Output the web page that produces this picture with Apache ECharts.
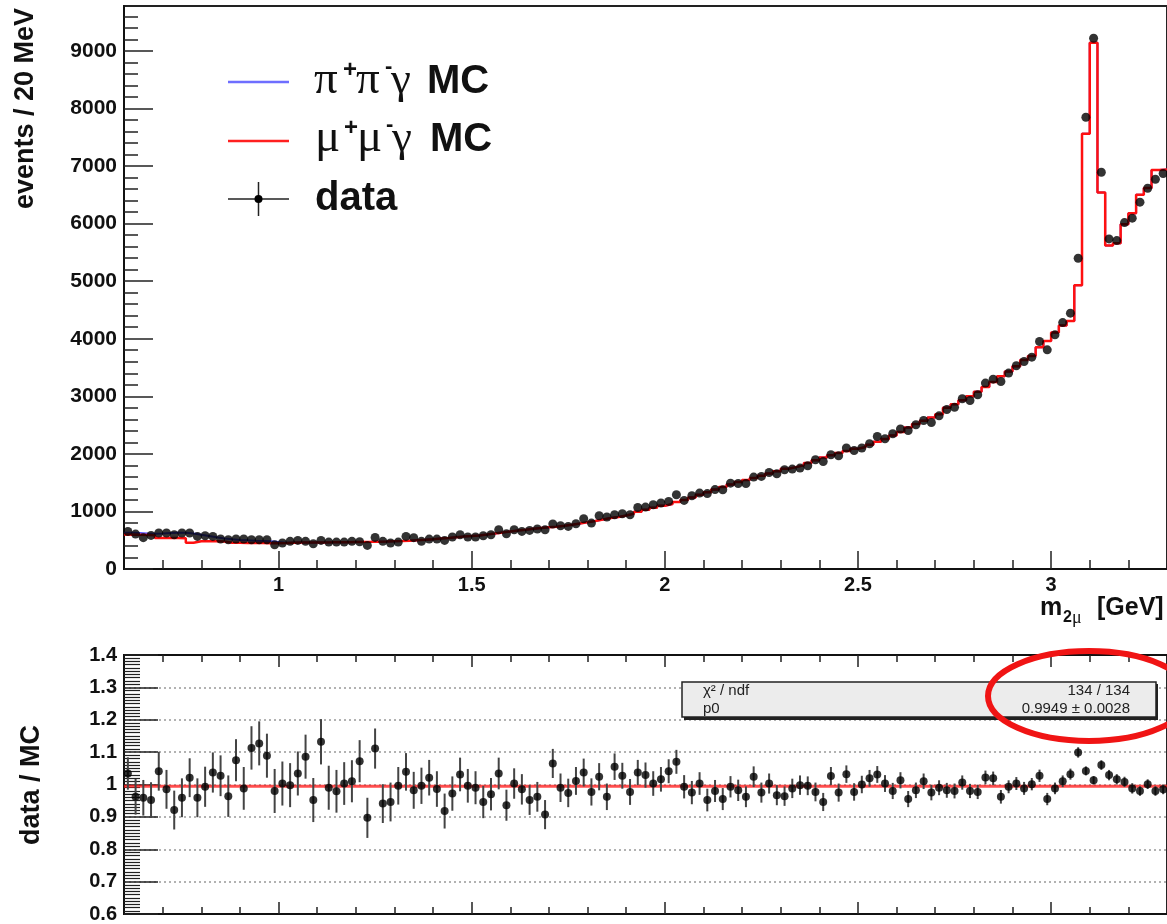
<!DOCTYPE html>
<html><head><meta charset="utf-8">
<script src="https://cdn.jsdelivr.net/npm/echarts@6/dist/echarts.min.js"></script>
<style>html,body{margin:0;padding:0;background:#fff}#c{width:1167px;height:924px}</style>
</head><body><div id="c"></div>
<script>
// ---- binning (categories) ----
const binLow = 0.6, binWidth = 0.02, nBins = 135;

// ---- top panel: data events per 20 MeV bin ----
const dataEvents = [653,607,545,583,625,625,595,625,625,566,578,566,521,509,521,521,509,509,509,422,
451,480,497,480,439,497,468,468,468,480,474,410,549,480,451,468,566,545,480,520,
520,497,555,595,555,555,578,595,682,613,682,653,670,694,682,781,752,740,786,873,
798,925,903,943,960,943,1069,1076,1116,1146,1174,1290,1191,1273,1319,1310,1380,1377,1491,1486,
1486,1597,1608,1677,1654,1724,1736,1753,1793,1898,1868,1984,1967,2101,2059,2101,2175,2302,2262,2349,
2431,2406,2505,2580,2545,2661,2770,2808,2957,2928,3026,3229,3298,3257,3403,3530,3604,3680,3951,3807,
4068,4281,4444,5399,7847,9219,6892,5734,5705,6017,6094,6372,6615,6771,6870];

// ---- top panel: mu+mu-gamma MC (red) ----
const mcMuMu = [600,595,590,585,540,540,538,535,455,482,482,480,478,455,455,452,450,450,448,446,
450,456,460,460,460,462,463,465,466,468,470,472,475,478,482,486,492,500,508,518,
530,540,552,563,572,582,598,615,635,652,668,682,698,712,725,735,752,770,790,812,
835,860,885,905,930,960,995,1030,1065,1100,1130,1165,1200,1240,1290,1335,1380,1425,1470,1510,
1545,1580,1620,1660,1700,1740,1770,1800,1840,1890,1935,1975,2015,2050,2090,2120,2160,2210,2260,2320,
2380,2460,2520,2575,2630,2690,2800,2860,2930,3000,3080,3160,3250,3350,3430,3520,3630,3700,3850,3960,
4110,4230,4310,4930,7560,9140,6540,5620,5660,5990,6180,6500,6620,6930,6940];

// ---- top panel: pi+pi-gamma MC contribution (blue, drawn stacked on top of red) ----
const mcPiPi = [30,30,25,27,75,85,92,93,160,113,93,70,52,60,50,46,42,37,34,24,
5,3,2,0,0,0,0,0,0,0,0,0,0,0,0,0,0,0,0,0,
0,0,0,0,0,0,0,0,0,0,0,0,0,0,0,0,0,0,0,0,
0,0,0,0,0,0,0,0,0,0,0,0,0,0,0,0,0,0,0,0,
0,0,0,0,0,0,0,0,0,0,0,0,0,0,0,0,0,0,0,0,
0,0,0,0,0,0,0,0,0,0,0,0,0,0,0,0,0,0,0,0,
0,0,0,0,0,0,0,0,0,0,0,0,0,0,0];

// ---- bottom panel: data / MC ratio and its error ----
const ratio = [1.034,0.962,0.959,0.952,1.041,0.985,0.921,0.959,1.021,0.959,0.993,1.037,1.027,0.964,1.075,0.988,1.113,1.127,1.089,0.980,
1.003,0.998,1.034,1.086,0.952,1.132,0.990,0.979,1.003,1.010,1.072,0.897,1.111,0.941,0.946,0.996,1.039,0.982,0.996,1.021,
0.986,0.918,0.972,1.031,0.996,0.990,0.946,0.970,1.034,0.936,1.003,0.985,0.952,0.962,0.907,1.065,0.990,0.974,1.011,1.037,
0.977,1.024,0.962,1.055,1.027,0.977,1.037,1.029,1.003,1.016,1.041,1.070,0.993,0.975,1.003,0.952,0.980,0.955,0.993,0.982,
0.962,1.024,0.975,1.003,0.967,0.964,0.988,0.998,0.996,0.977,0.946,1.026,0.975,1.032,0.977,1.000,1.019,1.031,1.003,0.980,
1.013,0.955,0.982,1.010,0.975,0.990,0.982,0.980,1.006,0.980,0.977,1.022,1.019,0.962,0.993,1.003,0.988,1.001,1.027,0.955,
0.988,1.010,1.032,1.099,1.042,1.013,1.060,1.029,1.016,1.008,0.988,0.980,1.001,0.980,0.985];
const ratioErr = [0.050,0.055,0.055,0.055,0.060,0.060,0.060,0.060,0.060,0.060,0.062,0.062,0.063,0.064,0.065,0.066,0.067,0.068,0.068,0.068,
0.068,0.068,0.068,0.068,0.068,0.070,0.068,0.066,0.066,0.065,0.065,0.062,0.062,0.060,0.060,0.058,0.058,0.057,0.056,0.055,
0.055,0.054,0.053,0.052,0.052,0.051,0.050,0.050,0.049,0.048,0.047,0.047,0.046,0.046,0.045,0.045,0.044,0.044,0.043,0.043,
0.042,0.042,0.041,0.041,0.040,0.040,0.039,0.039,0.038,0.038,0.037,0.037,0.036,0.036,0.035,0.035,0.034,0.034,0.033,0.033,
0.032,0.032,0.031,0.031,0.031,0.030,0.030,0.030,0.029,0.029,0.028,0.028,0.028,0.027,0.027,0.027,0.026,0.026,0.026,0.025,
0.025,0.025,0.024,0.024,0.024,0.023,0.023,0.023,0.022,0.022,0.022,0.021,0.021,0.021,0.020,0.020,0.020,0.019,0.019,0.019,
0.018,0.018,0.017,0.016,0.014,0.013,0.015,0.016,0.016,0.016,0.016,0.015,0.015,0.015,0.015];

// ---- fit result ----
const fitP0 = 0.9949, fitP0Err = 0.0028, fitChi2 = 134, fitNdf = 134;

// ---- tick labels ----
const xMajorTicks = [1, 1.5, 2, 2.5, 3];
const xMinorTicks = [0.7,0.8,0.9,1.1,1.2,1.3,1.4,1.6,1.7,1.8,1.9,2.1,2.2,2.3,2.4,2.6,2.7,2.8,2.9,3.1,3.2];
const yTopMax = 9780;
const yTopMinorTicks = [];
for (let v = 200; v < yTopMax; v += 200) { if (v % 1000 !== 0) yTopMinorTicks.push(v); }

const edges = Array.from({length: nBins + 1}, (_, i) => +(binLow + i * binWidth).toFixed(3));
const centers = Array.from({length: nBins}, (_, i) => +(binLow + (i + 0.5) * binWidth).toFixed(3));
const stepData = arr => arr.map((v, i) => [edges[i], v]).concat([[edges[nBins], arr[nBins - 1]]]);
// stacked histogram: blue outline = mu mu gamma + pi pi gamma
const mcStackTop = mcMuMu.map((v, i) => v + mcPiPi[i]);

const FONT = 'Liberation Sans';
const tickStyle = { color: '#222', width: 1.5 };

function xAxisDef(grid, pos, vals, len, showLine, labels) {
  return {
    type: 'value', gridIndex: grid, position: pos, min: binLow, max: +(binLow + nBins * binWidth).toFixed(2),
    axisLine: { show: showLine, onZero: false, lineStyle: { color: '#111', width: 2 } },
    axisTick: { show: true, inside: true, length: len, customValues: vals, lineStyle: tickStyle },
    axisLabel: labels ? { show: true, customValues: vals, margin: 6, fontFamily: FONT, fontWeight: 'bold', fontSize: 20, color: '#111',
      formatter: v => String(v) } : { show: false },
    splitLine: { show: false }
  };
}

const chart = echarts.init(document.getElementById('c'), null, { renderer: 'canvas' });
const option = {
  animation: false,
  backgroundColor: '#fff',
  grid: [
    { left: 124, top: 6, width: 1048, height: 563, show: true, borderColor: '#222', borderWidth: 2, backgroundColor: 'transparent' },
    { left: 124, top: 655, width: 1048, height: 259, show: true, borderColor: '#222', borderWidth: 2, backgroundColor: 'transparent' }
  ],
  xAxis: [
    xAxisDef(0, 'bottom', xMajorTicks, 18, true, true),
    xAxisDef(0, 'bottom', xMinorTicks, 9, false, false),
    xAxisDef(1, 'bottom', xMajorTicks, 12, true, false),
    xAxisDef(1, 'bottom', xMinorTicks, 7, false, false),
    xAxisDef(1, 'top', xMajorTicks, 12, true, false),
    xAxisDef(1, 'top', xMinorTicks, 7, false, false)
  ],
  yAxis: [
    { type: 'value', gridIndex: 0, position: 'left', min: 0, max: yTopMax, interval: 1000,
      axisLine: { show: true, lineStyle: { color: '#111', width: 2 } },
      axisTick: { show: true, inside: true, length: 29, lineStyle: tickStyle },
      axisLabel: { margin: 7, fontFamily: FONT, fontWeight: 'bold', fontSize: 21, color: '#111', showMaxLabel: false,
        formatter: v => String(v) },
      splitLine: { show: false } },
    { type: 'value', gridIndex: 0, position: 'left', min: 0, max: yTopMax,
      axisLine: { show: false },
      axisTick: { show: true, inside: true, length: 14, customValues: yTopMinorTicks, lineStyle: tickStyle },
      axisLabel: { show: false }, splitLine: { show: false } },
    { type: 'value', gridIndex: 1, position: 'left', min: 0.6, max: 1.4, interval: 0.1,
      axisLine: { show: true, lineStyle: { color: '#111', width: 2 } },
      axisTick: { show: true, inside: true, length: 34, lineStyle: tickStyle },
      minorTick: { show: true, splitNumber: 10, length: 16, lineStyle: { color: '#222', width: 1.2 } },
      axisLabel: { margin: 7, fontFamily: FONT, fontWeight: 'bold', fontSize: 20, color: '#111',
        formatter: v => String(Number(v.toFixed(1))) },
      splitLine: { show: true, lineStyle: { color: '#999', width: 1.5, type: [2, 3] } } }
  ],
  series: [
    { name: 'pipi', type: 'line', step: 'end', xAxisIndex: 0, yAxisIndex: 0, data: stepData(mcStackTop),
      symbol: 'none', lineStyle: { color: '#5050ff', width: 2 }, z: 3 },
    { name: 'mumu', type: 'line', step: 'end', xAxisIndex: 0, yAxisIndex: 0, data: stepData(mcMuMu),
      symbol: 'none', lineStyle: { color: '#ff1010', width: 2.5 }, z: 4 },
    { name: 'data', type: 'scatter', xAxisIndex: 0, yAxisIndex: 0, data: centers.map((c, i) => [c, dataEvents[i]]),
      symbol: 'circle', symbolSize: 9, itemStyle: { color: '#000' }, z: 6 },
    { name: 'ratioErr', type: 'custom', xAxisIndex: 2, yAxisIndex: 2,
      data: centers.map((c, i) => [c, ratio[i] - ratioErr[i], ratio[i] + ratioErr[i]]),
      encode: { x: 0, y: [1, 2] }, z: 5,
      renderItem: (params, api) => {
        const a = api.coord([api.value(0), api.value(1)]);
        const b = api.coord([api.value(0), api.value(2)]);
        return { type: 'line', shape: { x1: a[0], y1: a[1], x2: b[0], y2: b[1] }, style: { stroke: '#444', lineWidth: 2 } };
      } },
    { name: 'fit', type: 'line', xAxisIndex: 2, yAxisIndex: 2, data: [[edges[0], fitP0], [edges[nBins], fitP0]],
      symbol: 'none', lineStyle: { color: 'rgba(255,20,20,0.75)', width: 3 }, z: 4 },
    { name: 'ratio', type: 'scatter', xAxisIndex: 2, yAxisIndex: 2, data: centers.map((c, i) => [c, ratio[i]]),
      symbol: 'circle', symbolSize: 8, itemStyle: { color: '#000' }, z: 6 }
  ],
  graphic: [
    // legend
    { type: 'line', shape: { x1: 228, y1: 82, x2: 289, y2: 82 }, style: { stroke: '#6e6eff', lineWidth: 2.5 } },
    { type: 'line', shape: { x1: 228, y1: 141, x2: 289, y2: 141 }, style: { stroke: '#ff2020', lineWidth: 2.5 } },
    { type: 'line', shape: { x1: 228, y1: 199, x2: 289, y2: 199 }, style: { stroke: '#222', lineWidth: 1.5 } },
    { type: 'line', shape: { x1: 258.5, y1: 182, x2: 258.5, y2: 216 }, style: { stroke: '#222', lineWidth: 1.5 } },
    { type: 'circle', shape: { cx: 258.5, cy: 199, r: 4 }, style: { fill: '#000' } },
    { type: 'text', x: 314, y: 81, style: { text: 'π', font: '47px "Liberation Serif"', fill: '#111', verticalAlign: 'middle' } },
    { type: 'text', x: 343, y: 70, style: { text: '+', font: 'bold 24px "Liberation Sans"', fill: '#111', verticalAlign: 'middle' } },
    { type: 'text', x: 356, y: 81, style: { text: 'π', font: '47px "Liberation Serif"', fill: '#111', verticalAlign: 'middle' } },
    { type: 'text', x: 385, y: 67, style: { text: '-', font: 'bold 22px "Liberation Sans"', fill: '#111', verticalAlign: 'middle' } },
    { type: 'text', x: 391, y: 81, style: { text: 'γ', font: '45px "Liberation Serif"', fill: '#111', verticalAlign: 'middle' } },
    { type: 'text', x: 427, y: 82, style: { text: 'MC', font: 'bold 40px "Liberation Sans"', fill: '#111', verticalAlign: 'middle' } },
    { type: 'text', x: 315, y: 139, style: { text: 'μ', font: '47px "Liberation Serif"', fill: '#111', verticalAlign: 'middle' } },
    { type: 'text', x: 344, y: 128, style: { text: '+', font: 'bold 24px "Liberation Sans"', fill: '#111', verticalAlign: 'middle' } },
    { type: 'text', x: 357, y: 139, style: { text: 'μ', font: '47px "Liberation Serif"', fill: '#111', verticalAlign: 'middle' } },
    { type: 'text', x: 386, y: 125, style: { text: '-', font: 'bold 22px "Liberation Sans"', fill: '#111', verticalAlign: 'middle' } },
    { type: 'text', x: 392, y: 139, style: { text: 'γ', font: '45px "Liberation Serif"', fill: '#111', verticalAlign: 'middle' } },
    { type: 'text', x: 430, y: 140, style: { text: 'MC', font: 'bold 40px "Liberation Sans"', fill: '#111', verticalAlign: 'middle' } },
    { type: 'text', x: 315, y: 199, style: { text: 'data', font: 'bold 40px "Liberation Sans"', fill: '#111', verticalAlign: 'middle' } },
    // axis titles
    { type: 'text', x: 26, y: 8, rotation: Math.PI / 2,
      style: { text: 'events / 20 MeV', font: 'bold 27px "Liberation Sans"', fill: '#111', align: 'right', verticalAlign: 'middle' } },
    { type: 'text', x: 32, y: 725, rotation: Math.PI / 2,
      style: { text: 'data / MC', font: 'bold 27px "Liberation Sans"', fill: '#111', align: 'right', verticalAlign: 'middle' } },
    { type: 'text', x: 1040, y: 608, style: { text: 'm', font: 'bold 25px "Liberation Sans"', fill: '#111', verticalAlign: 'middle' } },
    { type: 'text', x: 1063, y: 618, style: { text: '2', font: 'bold 16px "Liberation Sans"', fill: '#111', verticalAlign: 'middle' } },
    { type: 'text', x: 1072, y: 618, style: { text: 'μ', font: '18px "Liberation Serif"', fill: '#111', verticalAlign: 'middle' } },
    { type: 'text', x: 1097, y: 608, style: { text: '[GeV]', font: 'bold 25px "Liberation Sans"', fill: '#111', verticalAlign: 'middle' } },
    // stats box
    { type: 'rect', shape: { x: 684, y: 684, width: 474, height: 36 }, style: { fill: '#222' }, z: 50 },
    { type: 'rect', shape: { x: 682, y: 682, width: 474, height: 35 }, style: { fill: '#ececec', stroke: '#222', lineWidth: 1.5 }, z: 51 },
    { type: 'text', x: 703, y: 691, z: 52, style: { text: 'χ² / ndf', font: '15px "Liberation Sans"', fill: '#222', verticalAlign: 'middle' } },
    { type: 'text', x: 703, y: 709, z: 52, style: { text: 'p0', font: '15px "Liberation Sans"', fill: '#222', verticalAlign: 'middle' } },
    { type: 'text', x: 1130, y: 691, z: 52, style: { text: fitChi2 + ' / ' + fitNdf, font: '15px "Liberation Sans"', fill: '#222', align: 'right', verticalAlign: 'middle' } },
    { type: 'text', x: 1130, y: 709, z: 52, style: { text: fitP0.toFixed(4) + ' ± ' + fitP0Err.toFixed(4), font: '15px "Liberation Sans"', fill: '#222', align: 'right', verticalAlign: 'middle' } },
    // annotation ellipse
    { type: 'ellipse', shape: { cx: 1089, cy: 696, rx: 101, ry: 45 }, style: { fill: 'none', stroke: '#f01414', lineWidth: 6 }, z: 60 }
  ]
};
chart.setOption(option);
</script>
</body></html>
